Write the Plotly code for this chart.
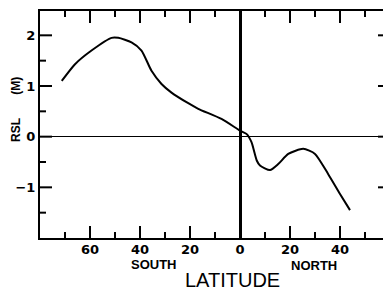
import numpy as np
import plotly.graph_objects as go

# Latitude (south negative), relative sea level (m)
lat = [-71.3, -66, -59.4, -51.4, -48.7, -43.4, -39.4, -35.4, -31.4, -27.4, -20.7, -16.7, -7.4, 0, 2.7,
       4.6, 6.7, 8, 12, 15.3, 19.3, 25.3, 30, 35.3, 40, 44]
rsl = [1.10, 1.43, 1.70, 1.95, 1.95, 1.86, 1.70, 1.30, 1.04, 0.87, 0.66, 0.55, 0.35, 0.12, 0.05,
       -0.11, -0.47, -0.57, -0.66, -0.54, -0.34, -0.24, -0.34, -0.74, -1.13, -1.45]

xtick_vals = [-60, -40, -20, 0, 20, 40]
xtick_text = ["60", "40", "20", "0", "20", "40"]
ytick_vals = [-1, 0, 1, 2]
ytick_text = ["\u22121", "0", "1", "2"]
x_range = [-80, 60]
y_range = [-2.0, 2.48]
x_minor_step = 10
y_minor_step = 0.5

W, H = 383, 279
M = dict(l=32, r=1, t=3, b=49)
plot_w = W - M["l"] - M["r"]
plot_h = H - M["t"] - M["b"]

fig = go.Figure()
fig.add_trace(go.Scatter(x=lat, y=rsl, mode="lines",
                         line=dict(color="black", width=2, shape="spline", smoothing=0.6),
                         showlegend=False, hoverinfo="skip"))

# inward tick marks on all four sides (lengths converted from pixels via the axis scales)
MAJOR, MINOR = 12, 6
x_per_px = (x_range[1] - x_range[0]) / plot_w
y_per_px = (y_range[1] - y_range[0]) / plot_h
x_minor = [v for v in np.arange(x_range[0], x_range[1] + 1e-9, x_minor_step)
           if v not in xtick_vals and x_range[0] < v < x_range[1]]
y_minor = [round(v, 3) for v in np.arange(-2.0, y_range[1], y_minor_step)
           if round(v, 3) not in ytick_vals and y_range[0] < v < y_range[1]]
tx, ty = [], []
for vals, L in ((xtick_vals, MAJOR), (x_minor, MINOR)):
    for v in vals:
        tx += [v, v, None, v, v, None]
        ty += [y_range[0], y_range[0] + L * y_per_px, None,
               y_range[1], y_range[1] - L * y_per_px, None]
for vals, L in ((ytick_vals, MAJOR), (y_minor, MINOR)):
    for v in vals:
        tx += [x_range[0], x_range[0] + L * x_per_px, None,
               x_range[1], x_range[1] - L * x_per_px, None]
        ty += [v, v, None, v, v, None]
fig.add_trace(go.Scatter(x=tx, y=ty, mode="lines", line=dict(color="black", width=2),
                         showlegend=False, hoverinfo="skip", connectgaps=False))

lab_font = "DejaVu Sans, Liberation Sans, sans-serif"
txt_font = "Liberation Sans, Arial, sans-serif"

main = dict(showgrid=False, automargin=False, tickmode="array", ticks="",
            showline=True, linewidth=2, linecolor="black", mirror=True,
            tickfont=dict(size=13, family=lab_font, weight="bold"))

fig.update_layout(
    width=W, height=H,
    margin=dict(autoexpand=False, **M),
    plot_bgcolor="white", paper_bgcolor="white",
    font=dict(family=txt_font, color="black"),
    xaxis=dict(range=x_range, tickvals=xtick_vals, ticktext=xtick_text, ticklabelstandoff=-2,
               zeroline=True, zerolinewidth=2.5, zerolinecolor="black", **main),
    yaxis=dict(range=y_range, tickvals=ytick_vals, ticktext=ytick_text,
               zeroline=True, zerolinewidth=1, zerolinecolor="black", **main),
)

ann = dict(xref="paper", yref="paper", showarrow=False, xanchor="center", yanchor="middle")
fig.add_annotation(text="<b>SOUTH</b>", x=0.326, y=-0.118, font=dict(size=13, family=txt_font), **ann)
fig.add_annotation(text="<b>NORTH</b>", x=0.783, y=-0.120, font=dict(size=13, family=txt_font), **ann)
fig.add_annotation(text="LATITUDE", x=0.549, y=-0.185, font=dict(size=20, family=txt_font), **ann)
fig.add_annotation(text="<b>RSL</b>", x=-0.069, y=0.475, textangle=-90,
                   font=dict(size=12, family=txt_font), **ann)
fig.add_annotation(text="<b>(M)</b>", x=-0.069, y=0.670, textangle=-90,
                   font=dict(size=12, family=txt_font), **ann)

fig.write_html("out.html")
